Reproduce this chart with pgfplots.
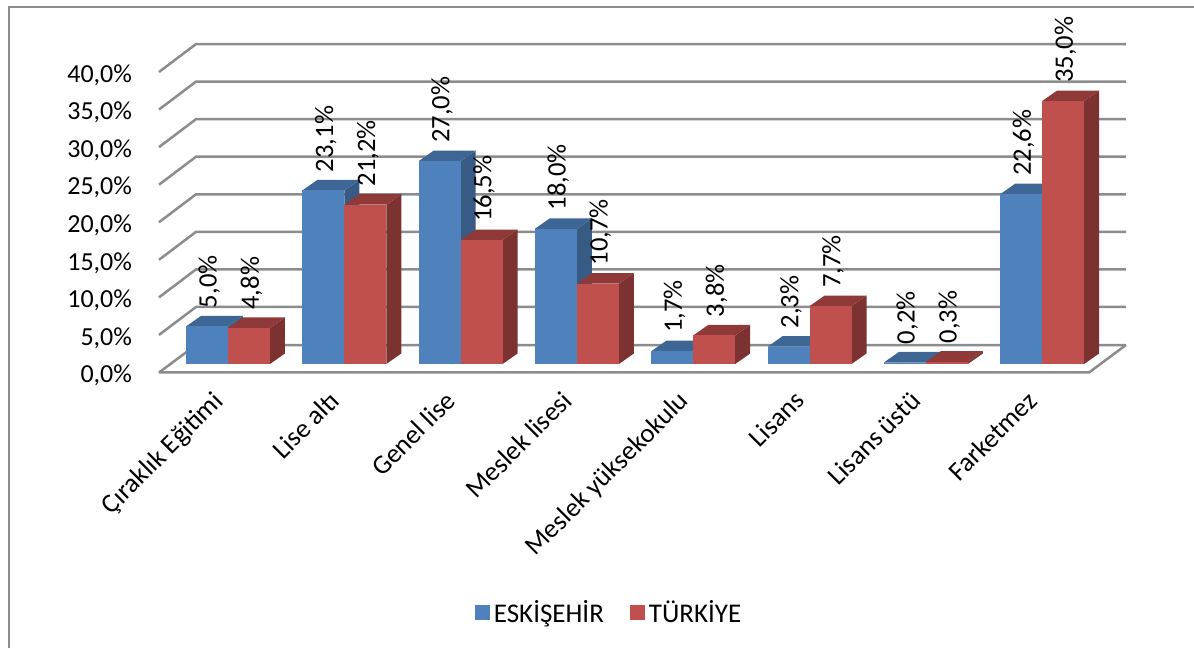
\documentclass[border=0pt]{standalone}
\usepackage{pgfplots}
\pgfplotsset{compat=1.18}
\usepackage{fontspec}
\setmainfont{Carlito}

\definecolor{blueface}{HTML}{4F81BD}
\definecolor{bluetop}{HTML}{3E6695}
\definecolor{blueside}{HTML}{375B85}
\definecolor{redface}{HTML}{C0504D}
\definecolor{redtop}{HTML}{8F3A38}
\definecolor{redside}{HTML}{7B3230}
\definecolor{wallgrey}{HTML}{8C8C8C}

% bar geometry, x in category units, y in percent (y=0 is the foot of the bars)
\def\barw{0.361}
\def\depx{0.129}
\def\depy{1.40}

\pgfplotsset{
  frontbar/.style={
    ybar, bar width=\barw, bar shift=0pt, draw=none, forget plot,
    nodes near coords={\pgfmathprintnumber[fixed,fixed zerofill,precision=1,use comma,assume math mode=true]{\pgfplotspointmeta}\%},
    nodes near coords style={rotate=90, anchor=west, inner sep=0pt, xshift=9pt, yshift=-1.2pt, text=black, font=\fontsize{13.3}{13.3}\selectfont}
  }
}

% one 3D bar: category, left edge offset, value, colour prefix
\newcommand{\onebar}[4]{%
  \pgfmathsetmacro{\xa}{#1+#2}%
  \pgfmathsetmacro{\xb}{#1+#2+\barw}%
  \pgfmathsetmacro{\xc}{#1+#2+\barw+\depx}%
  \pgfmathsetmacro{\xd}{#1+#2+\depx}%
  \pgfmathsetmacro{\xm}{#1+#2+0.5*\barw}%
  \pgfmathsetmacro{\yt}{#3+\depy}%
  \edef\temp{\noexpand\addplot[fill=#4side, draw=none, forget plot] coordinates
    {(\xb,0) (\xc,\depy) (\xc,\yt) (\xb,#3)} -- cycle;}\temp
  \edef\temp{\noexpand\addplot[fill=#4top, draw=none, forget plot] coordinates
    {(\xa,#3) (\xb,#3) (\xc,\yt) (\xd,\yt)} -- cycle;}\temp
  \edef\temp{\noexpand\addplot[frontbar, fill=#4face] coordinates {(\xm,#3)};}\temp
}
\newcommand{\barpair}[3]{\onebar{#1}{-0.361}{#2}{blue}\onebar{#1}{0}{#3}{red}}

% one grid level: side wall diagonal then back wall
\newcommand{\gridlevel}[2]{%
  \addplot[color=wallgrey, line width=1.25pt, forget plot] coordinates {(-0.593,#1) (-0.275,#2) (7.721,#2)};
}

\begin{document}
\begin{tikzpicture}
\useasboundingbox (0,0) rectangle (597pt,324pt);
\draw[color=wallgrey, line width=1pt] (4.5pt,0) -- (4.5pt,320.5pt) -- (597pt,320.5pt);
\begin{axis}[
  at={(79.5pt,137.75pt)},
  anchor=south west,
  scale only axis,
  width=465pt,
  height=150.25pt,
  xmin=-0.593, xmax=7.403,
  ymin=-1.13, ymax=38.87,
  clip=false,
  axis line style={draw=none},
  tick style={draw=none},
  xtick={0,1,2,3,4,5,6,7},
  xticklabels={Çıraklık Eğitimi, Lise altı, Genel lise, Meslek lisesi, Meslek yüksekokulu, Lisans, Lisans üstü, Farketmez},
  x tick label style={rotate=45, anchor=north east, font=\fontsize{13.4}{14}\selectfont, yshift=3.4pt, xshift=-8.35pt},
  ytick={-1.13,3.87,8.87,13.87,18.87,23.87,28.87,33.87,38.87},
  yticklabels={{0,0\%},{5,0\%},{10,0\%},{15,0\%},{20,0\%},{25,0\%},{30,0\%},{35,0\%},{40,0\%}},
  y tick label style={anchor=east, xshift=-10pt, yshift=-1.5pt, font=\fontsize{13}{13}\selectfont},
  legend style={at={(0.485,-0.80)}, anchor=center, draw=none, fill=none,
    font=\fontsize{13.5}{13.5}\selectfont, legend columns=2,
    /tikz/every even column/.append style={column sep=11pt}},
  legend image code/.code={\fill[#1, draw=none] (0pt,-3.7pt) rectangle (7.5pt,3.8pt);},
]
\gridlevel{-1.13}{2.53}
\gridlevel{3.87}{7.59}
\gridlevel{8.87}{12.59}
\gridlevel{13.87}{17.59}
\gridlevel{18.87}{22.59}
\gridlevel{23.87}{27.59}
\gridlevel{28.87}{32.59}
\gridlevel{33.87}{37.59}
\gridlevel{38.87}{42.59}
% floor front edge and right edge
\addplot[color=wallgrey, line width=1.25pt, forget plot] coordinates {(-0.593,-1.13) (7.403,-1.13) (7.721,2.53)};

\barpair{0}{5.0}{4.8}
\barpair{1}{23.1}{21.2}
\barpair{2}{27.0}{16.5}
\barpair{3}{18.0}{10.7}
\barpair{4}{1.7}{3.8}
\barpair{5}{2.3}{7.7}
\barpair{6}{0.2}{0.3}
\barpair{7}{22.6}{35.0}

\addlegendimage{fill=blueface}
\addlegendentry{ESKİŞEHİR}
\addlegendimage{fill=redface}
\addlegendentry{TÜRKİYE}
\end{axis}
\end{tikzpicture}
\end{document}
